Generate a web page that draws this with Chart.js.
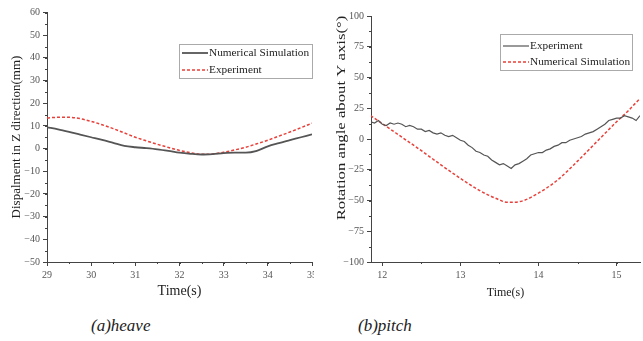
<!DOCTYPE html>
<html>
<head>
<meta charset="utf-8">
<script src="https://cdn.jsdelivr.net/npm/chart.js@4"></script>
<style>
body{margin:0;background:#fff;width:643px;height:341px;position:relative;overflow:hidden;font-family:"Liberation Serif",serif;}
.panel{position:absolute;top:0;overflow:hidden;height:300px;}
#leftBox{left:0;width:314px;}
#rightBox{left:320px;width:323px;}
.caption{position:absolute;top:316px;font-style:italic;font-size:17px;color:#222;}
</style>
</head>
<body>
<div class="panel" id="leftBox"><canvas id="heaveChart" width="320" height="300"></canvas></div>
<div class="panel" id="rightBox"><canvas id="pitchChart" width="323" height="300"></canvas></div>
<div class="caption" style="left:91px">(a)heave</div>
<div class="caption" style="left:358px">(b)pitch</div>
<script>
// ------------------------------
// Data: heave
// ------------------------------
const heaveTime = [29,29.25,29.5,29.75,30,30.25,30.5,30.75,31,31.25,31.5,31.75,32,32.25,32.5,32.75,33,33.25,33.5,33.75,34,34.25,34.5,34.75,35];
const heaveNumerical = [9.4,8.5,7.4,6.2,5.0,3.8,2.5,1.2,0.6,0.2,-0.3,-1.0,-1.8,-2.3,-2.6,-2.4,-2.0,-1.8,-1.8,-1.0,1.0,2.4,3.7,5.0,6.3];
const heaveExperiment = [13.5,13.8,13.8,13.2,12.0,10.5,8.8,6.9,5.0,3.4,1.9,0.5,-0.8,-1.8,-2.5,-2.4,-1.6,-0.6,0.6,2.1,3.7,5.5,7.3,9.2,11.2];
const heaveXTicks = [29,30,31,32,33,34,35];
const heaveYTicks = [60,50,40,30,20,10,0,-10,-20,-30,-40,-50];

// ------------------------------
// Data: pitch
// ------------------------------
const pitchExpTime = [
11.85,11.9,11.95,12,12.05,12.1,12.15,12.2,12.25,12.3,
12.35,12.4,12.45,12.5,12.55,12.6,12.65,12.7,12.75,12.8,
12.85,12.9,12.95,13,13.05,13.1,13.15,13.2,13.25,13.3,
13.35,13.4,13.45,13.5,13.55,13.6,13.65,13.7,13.75,13.8,
13.85,13.9,13.95,14,14.05,14.1,14.15,14.2,14.25,14.3,
14.35,14.4,14.45,14.5,14.55,14.6,14.65,14.7,14.75,14.8,
14.85,14.9,14.95,15,15.05,15.1,15.15,15.2,15.25,15.3];
const pitchExperiment = [
14,13,15,12,11,13,12,13,12,10,
11,10,8,8,6,7,5,4,5,3,
2,3,1,-1,-2,-5,-7,-10,-11,-13,
-14,-17,-19,-21,-20,-22,-24,-21,-20,-18,
-16,-13,-12,-11,-11,-9,-8,-6,-5,-3,
-3,-1,0,1,2,4,5,6,8,10,
12,15,16,17,17,19,18,17,15,19];
const pitchSimTime = [11.85,12,12.25,12.5,12.75,13,13.25,13.5,13.6,13.75,14,14.25,14.5,14.75,15,15.15,15.3];
const pitchSimulation = [19,12.5,1.5,-9.5,-21,-32,-42,-49.5,-51.5,-51,-44,-33,-18,-2,14,23,33];
const pitchXTicks = [12,13,14,15];
const pitchYTicks = [100,75,50,25,0,-25,-50,-75,-100];

const pairs = (xs, ys) => xs.map((x, i) => ({x: x, y: ys[i]}));
const serif = "'Liberation Serif', 'Times New Roman', serif";

// ------------------------------
// Plugins
// ------------------------------
const yTitle = {
    id: "yTitle",
    afterDraw(chart, args, o) {
        const ctx = chart.ctx;
        ctx.save();
        ctx.translate(o.x, o.y);
        ctx.rotate(-Math.PI / 2);
        ctx.scale(o.stretch || 1, 1);
        ctx.font = o.font;
        ctx.fillStyle = "#222";
        ctx.textAlign = "center";
        ctx.textBaseline = "middle";
        ctx.fillText(o.text, 0, 0);
        ctx.restore();
    }
};

const boxLegend = {
    id: "boxLegend",
    afterDraw(chart, args, o) {
        const ctx = chart.ctx;
        ctx.save();
        ctx.strokeStyle = "#aaa";
        ctx.lineWidth = 1;
        ctx.strokeRect(o.x + 0.5, o.y + 0.5, o.w, o.h);
        ctx.font = o.font;
        ctx.textBaseline = "middle";
        ctx.fillStyle = "#222";
        o.order.forEach((di, i) => {
            const ds = chart.data.datasets[di];
            const y = o.y + o.first + i * o.gap;
            ctx.beginPath();
            ctx.setLineDash(ds.borderDash || []);
            ctx.strokeStyle = ds.borderColor;
            ctx.lineWidth = ds.borderWidth;
            ctx.moveTo(o.x + 3, y);
            ctx.lineTo(o.x + 29, y);
            ctx.stroke();
            ctx.setLineDash([]);
            ctx.fillText(ds.label, o.x + 30, y);
        });
        ctx.restore();
    }
};

const minorTicks = {
    id: "minorTicks",
    afterDraw(chart, args, o) {
        const ctx = chart.ctx;
        const xs = chart.scales.x, ys = chart.scales.y;
        ctx.save();
        ctx.strokeStyle = "#444";
        ctx.lineWidth = 1;
        ctx.beginPath();
        for (let v = Math.ceil(xs.min / o.x) * o.x; v <= xs.max + 1e-9; v += o.x) {
            const px = Math.round(xs.getPixelForValue(v)) + 0.5;
            ctx.moveTo(px, ys.bottom);
            ctx.lineTo(px, ys.bottom + 2);
        }
        for (let v = Math.ceil(ys.min / o.y) * o.y; v <= ys.max + 1e-9; v += o.y) {
            const py = Math.round(ys.getPixelForValue(v)) + 0.5;
            ctx.moveTo(xs.left, py);
            ctx.lineTo(xs.left - 2, py);
        }
        ctx.stroke();
        ctx.restore();
    }
};

function axis(ticksArr, min, max, fitSize, horizontal, titleText, titleSize) {
    const a = {
        type: "linear",
        min: min,
        max: max,
        afterBuildTicks: s => { s.ticks = ticksArr.map(v => ({value: v})); },
        grid: {drawOnChartArea: false, tickLength: 4, color: "#444"},
        border: {color: "#444"},
        ticks: {
            color: "#555",
            autoSkip: false,
            maxRotation: 0,
            padding: 3,
            font: {family: serif, size: 10},
            callback: v => String(v).replace("-", "\u2212")
        },
        afterFit: s => { if (horizontal) s.height = fitSize; else s.width = fitSize; }
    };
    if (titleText) {
        a.title = {display: true, text: titleText, color: "#222", padding: 0, font: {family: serif, size: titleSize}};
    }
    return a;
}

// ------------------------------
// Heave chart
// ------------------------------
new Chart(document.getElementById("heaveChart"), {
    type: "line",
    data: {
        datasets: [{
            label: "Numerical Simulation",
            data: pairs(heaveTime, heaveNumerical),
            borderColor: "#555",
            borderWidth: 1.8,
            pointRadius: 0,
            cubicInterpolationMode: "monotone"
        }, {
            label: "Experiment",
            data: pairs(heaveTime, heaveExperiment),
            borderColor: "#e8403a",
            borderWidth: 1.5,
            borderDash: [3, 2],
            pointRadius: 0,
            cubicInterpolationMode: "monotone"
        }]
    },
    options: {
        responsive: false,
        animation: false,
        layout: {padding: {top: 12.5, right: 7, bottom: 0, left: 0}},
        scales: {
            x: axis(heaveXTicks, 29, 35, 38, true, "Time(s)", 14),
            y: axis(heaveYTicks, -50, 60, 47, false)
        },
        plugins: {
            legend: {display: false},
            tooltip: {enabled: false},
            yTitle: {text: "Dispalment in Z direction(mm)", x: 17, y: 137, font: "13px " + serif},
            boxLegend: {x: 179, y: 44, w: 133, h: 34, first: 9, gap: 17, order: [0, 1], font: "11.3px " + serif},
            minorTicks: {x: 0.5, y: 5}
        }
    },
    plugins: [yTitle, boxLegend, minorTicks]
});

// ------------------------------
// Pitch chart
// ------------------------------
new Chart(document.getElementById("pitchChart"), {
    type: "line",
    data: {
        datasets: [{
            label: "Experiment",
            data: pairs(pitchExpTime, pitchExperiment),
            borderColor: "#555",
            borderWidth: 1.2,
            pointRadius: 0,
            tension: 0
        }, {
            label: "Numerical Simulation",
            data: pairs(pitchSimTime, pitchSimulation),
            borderColor: "#e8403a",
            borderWidth: 1.5,
            borderDash: [3, 2],
            pointRadius: 0,
            cubicInterpolationMode: "monotone"
        }]
    },
    options: {
        responsive: false,
        animation: false,
        layout: {padding: {top: 16, right: 3, bottom: 0, left: 0}},
        scales: {
            x: axis(pitchXTicks, 11.855, 15.3, 38, true, "Time(s)", 12),
            y: axis(pitchYTicks, -100, 100, 51, false)
        },
        plugins: {
            legend: {display: false},
            tooltip: {enabled: false},
            yTitle: {text: "Rotation angle about Y axis(\u00b0)", x: 21, y: 118, stretch: 1.24, font: "13.5px " + serif},
            boxLegend: {x: 180, y: 34, w: 132, h: 36, first: 12, gap: 16, order: [0, 1], font: "11.3px " + serif},
            minorTicks: {x: 0.5, y: 12.5}
        }
    },
    plugins: [yTitle, boxLegend, minorTicks]
});
</script>
</body>
</html>
